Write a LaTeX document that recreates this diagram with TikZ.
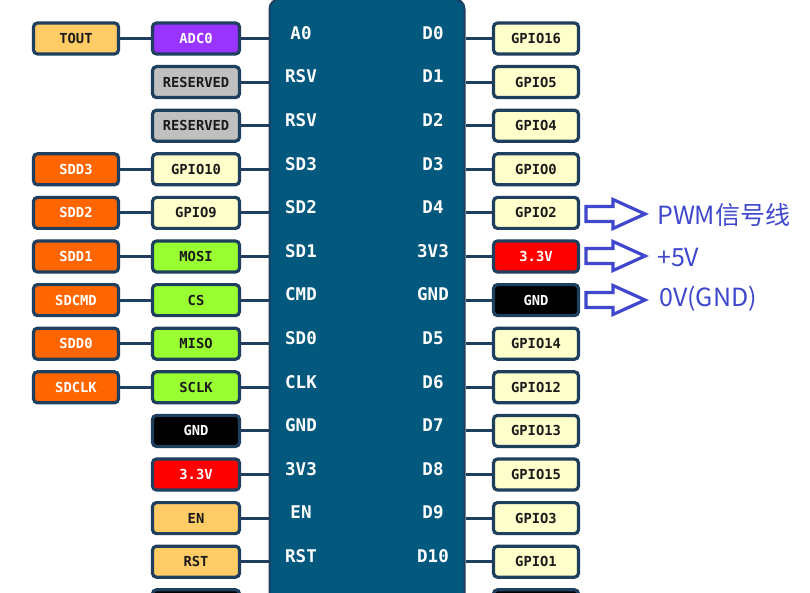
\documentclass[tikz,border=0pt]{standalone}
\usepackage{fontspec}
\newfontfamily\pinfont{DejaVu Sans Mono}
\newfontfamily\cjkfont{Noto Sans CJK SC}
\definecolor{navy}{HTML}{1E3F5E}
\definecolor{boardc}{HTML}{03587E}
\definecolor{cOrange}{HTML}{FF6600}
\definecolor{cGreen}{HTML}{99FF33}
\definecolor{cYellow}{HTML}{FFFFCC}
\definecolor{cTan}{HTML}{FFCC66}
\definecolor{cPurple}{HTML}{9933FF}
\definecolor{cGrey}{HTML}{C0C0C0}
\definecolor{cRed}{HTML}{FF0000}
\definecolor{cBlue}{HTML}{3F48CC}
\definecolor{darktext}{HTML}{1A1A1A}
\begin{document}
\begin{tikzpicture}[x=1pt,y=-1pt,
  pinbox/.style={draw=navy, line width=3.2pt, rounded corners=4pt, minimum height=31pt,
    inner sep=0pt, text=darktext, font=\pinfont\bfseries\fontsize{13.8}{14}\selectfont},
  lbox/.style={pinbox, minimum width=85pt},
  mbox/.style={pinbox, minimum width=87pt},
  rbox/.style={pinbox, minimum width=85pt},
  fpur/.style={fill=cPurple, text=white},
  fgry/.style={fill=cGrey},
  fyel/.style={fill=cYellow},
  fgrn/.style={fill=cGreen},
  fred/.style={fill=cRed, text=white},
  fblk/.style={fill=black, text=white},
  ftan/.style={fill=cTan},
  forg/.style={fill=cOrange, text=white},
  boardbox/.style={draw=navy, line width=2pt, fill=boardc, rounded corners=10pt},
  blabel/.style={text=white, inner sep=0pt, font=\pinfont\bfseries\fontsize{17.5}{18}\selectfont},
  conn/.style={draw=navy, line width=3pt},
  bigarrow/.style={draw=cBlue, line width=3.2pt, fill=white, line join=miter},
  note/.style={text=cBlue, anchor=west, inner sep=0pt, font=\cjkfont\fontsize{25}{26}\selectfont}
]
\useasboundingbox (0,0) rectangle (810,593);
\clip (0,0) rectangle (810,593);
\fill[white] (0,0) rectangle (810,593);

% board
\node[boardbox, minimum width=195pt, minimum height=660pt, anchor=north west, inner sep=0pt] (board) at (268.5,-2) {};

% middle and right columns
\foreach \i/\mt/\ms/\bl/\br/\rt/\rs in {
  0/ADC0/fpur/A0/D0/GPIO16/fyel,
  1/RESERVED/fgry/RSV/D1/GPIO5/fyel,
  2/RESERVED/fgry/RSV/D2/GPIO4/fyel,
  3/GPIO10/fyel/SD3/D3/GPIO0/fyel,
  4/GPIO9/fyel/SD2/D4/GPIO2/fyel,
  5/MOSI/fgrn/SD1/3V3/3.3V/fred,
  6/CS/fgrn/CMD/GND/GND/fblk,
  7/MISO/fgrn/SD0/D5/GPIO14/fyel,
  8/SCLK/fgrn/CLK/D6/GPIO12/fyel,
  9/GND/fblk/GND/D7/GPIO13/fyel,
  10/3.3V/fred/3V3/D8/GPIO15/fyel,
  11/EN/ftan/EN/D9/GPIO3/fyel,
  12/RST/ftan/RST/D10/GPIO1/fyel}{
  \pgfmathsetmacro\yy{38.5+43.6*\i}
  \pgfmathsetmacro\yl{\yy-5.5}
  \node[mbox,\ms] (m\i) at (196,\yy) {\mt};
  \node[rbox,\rs] (r\i) at (536,\yy) {\rt};
  \node[blabel] (bl\i) at (301,\yl) {\bl};
  \node[blabel] (br\i) at (433,\yl) {\br};
  \draw[conn] (m\i.east) -- (m\i.east -| board.west);
  \draw[conn] (r\i.west) -- (r\i.west -| board.east);
}
% partially visible bottom row
\pgfmathsetmacro\yy{38.5+43.6*13}
\node[mbox,fblk] (m13) at (196,\yy) {};
\node[rbox,fblk] (r13) at (536,\yy) {};

% left column
\foreach \i/\lt/\ls in {0/TOUT/ftan, 3/SDD3/forg, 4/SDD2/forg, 5/SDD1/forg,
  6/SDCMD/forg, 7/SDD0/forg, 8/SDCLK/forg}{
  \pgfmathsetmacro\yy{38.5+43.6*\i}
  \node[lbox,\ls] (l\i) at (76,\yy) {\lt};
  \draw[conn] (l\i.east) -- (m\i.west);
}

% annotation arrows
\foreach \k/\cy in {1/214, 2/256, 3/300}{
  \draw[bigarrow] (586,\cy-7.5) -- (613,\cy-7.5) -- (613,\cy-14.5) -- (645,\cy)
    -- (613,\cy+14.5) -- (613,\cy+7.5) -- (586,\cy+7.5) -- cycle;
}
\node[note] (n1) at (657,215) {PWM信号线};
\node[note] (n2) at (657,257) {+5V};
\node[note] (n3) at (659,299) {0V(GND)};
\end{tikzpicture}
\end{document}
